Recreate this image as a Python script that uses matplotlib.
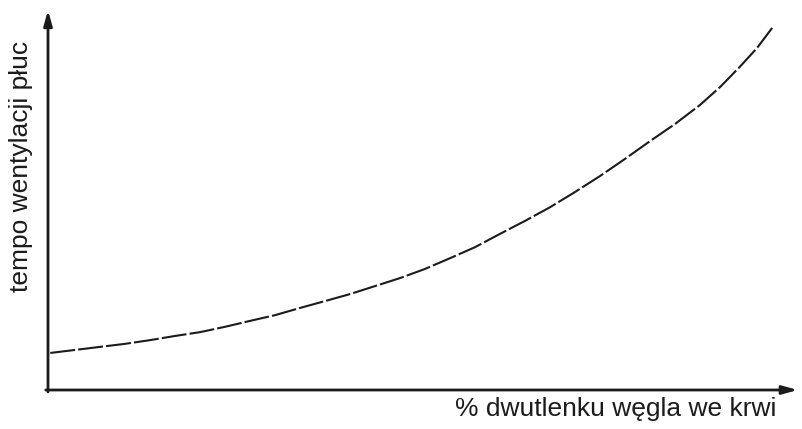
import numpy as np
import matplotlib
matplotlib.use("Agg")
import matplotlib.pyplot as plt

plt.rcParams['font.family'] = ['Liberation Sans', 'DejaVu Sans']

# curve (axis units 0..100)
co2 = [0.3, 3.6, 6.9, 10.2, 13.6, 16.9, 20.2, 23.5, 26.9, 30.2, 33.5, 36.8,
       40.2, 43.5, 46.8, 50.1, 53.5, 56.8, 60.1, 63.4, 66.8, 70.1, 73.4,
       76.7, 80.1, 83.4, 86.7, 89.4, 92.0, 94.3, 96.3]
ventilation = [9.8, 10.6, 11.4, 12.2, 13.2, 14.3, 15.3, 16.7, 18.3, 19.8, 21.7, 23.5,
               25.4, 27.5, 29.6, 32.0, 34.9, 37.8, 41.3, 44.7, 48.4, 52.4, 56.6,
               61.1, 65.9, 70.4, 75.4, 80.2, 85.5, 90.5, 95.8]

xlabel = "% dwutlenku węgla we krwi"
ylabel = "tempo wentylacji płuc"

W, H = 803, 429
fig = plt.figure(figsize=(W / 100, H / 100), dpi=100)
ax = fig.add_axes([48 / W, 1 - 390 / H, 752 / W, 378 / H])
ax.set_xlim(0, 100)
ax.set_ylim(0, 100)
ax.axis("off")

ink = "#1b1b1b"
ax.plot(co2, ventilation, color=ink, lw=1.5, ls=(0, (12, 1.5)), solid_capstyle="butt")

# axes with arrow heads
arrow = dict(arrowstyle="-|>,head_length=0.9,head_width=0.25", color=ink, lw=2.0, shrinkA=0, shrinkB=0)
ax.annotate("", xy=(0, 100.5), xytext=(0, -0.5), arrowprops=arrow, annotation_clip=False)
ax.annotate("", xy=(99.7, 0), xytext=(-0.3, 0), arrowprops=arrow, annotation_clip=False)

fig.text(616 / W, 1 - 409 / H, xlabel, ha="center", va="center", fontsize=19, color=ink)
fig.text(21 / W, 1 - 166 / H, ylabel, ha="center", va="center", rotation=90, fontsize=19, color=ink)

fig.savefig("out.png", dpi=100)
